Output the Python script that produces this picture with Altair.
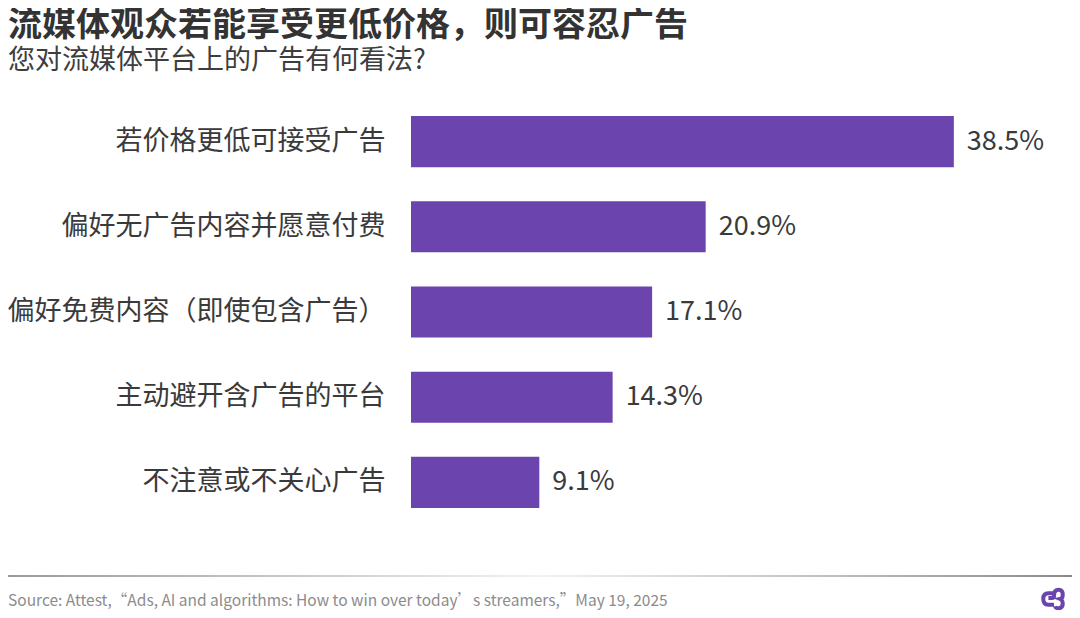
import altair as alt
import pandas as pd

categories = ["若价格更低可接受广告", "偏好无广告内容并愿意付费", "偏好免费内容（即使包含广告）", "主动避开含广告的平台", "不注意或不关心广告"]
values = [38.5, 20.9, 17.1, 14.3, 9.1]
labels = ["38.5%", "20.9%", "17.1%", "14.3%", "9.1%"]

title = "流媒体观众若能享受更低价格，则可容忍广告"
subtitle = "您对流媒体平台上的广告有何看法?"
source = "Source: Attest,“Ads, AI and algorithms: How to win over today’s streamers,”May 19, 2025"

FONT = "Noto Sans CJK SC"
PURPLE = "#6b45ad"
TEXT = "#3a3a3a"

df = pd.DataFrame({"cat": categories, "val": values, "lab": labels})

y_enc = alt.Y("cat:N", sort=categories, title=None,
              scale=alt.Scale(paddingInner=0.4, paddingOuter=0.2),
              axis=alt.Axis(domain=False, ticks=False, labelFontSize=27, labelFont=FONT,
                            labelColor=TEXT, labelPadding=26, labelLimit=500))
x_enc = alt.X("val:Q", scale=alt.Scale(domain=[0, 40]), axis=None)

base = alt.Chart(df)
bars = base.mark_bar(color=PURPLE).encode(x=x_enc, y=y_enc)
vals = base.mark_text(align="left", baseline="middle", dx=13, fontSize=27, font=FONT,
                      color=TEXT).encode(x=x_enc, y=y_enc, text="lab:N")

one = pd.DataFrame({"t": [title]})
title_m = alt.Chart(one).mark_text(align="left", baseline="middle", fontSize=34, fontWeight="bold",
                                   font=FONT, color="#333333").encode(
    x=alt.value(-403), y=alt.value(-73), text="t:N")
sub_df = pd.DataFrame({"t": [subtitle]})
sub_m = alt.Chart(sub_df).mark_text(align="left", baseline="middle", fontSize=27,
                                    font=FONT, color="#3d3d3d").encode(
    x=alt.value(-403), y=alt.value(-38), text="t:N")
src_df = pd.DataFrame({"t": [source]})
src_m = alt.Chart(src_df).mark_text(align="left", baseline="middle", fontSize=15.5,
                                    font=FONT, color="#8c8c8c").encode(
    x=alt.value(-403), y=alt.value(502), text="t:N")

grad = alt.LinearGradient(gradient="linear", x1=0, x2=1, y1=0, y2=0, stops=[
    alt.GradientStop(color="#9a9a9a", offset=0),
    alt.GradientStop(color="#f2f2f2", offset=0.5),
    alt.GradientStop(color="#c4c4c4", offset=0.75),
    alt.GradientStop(color="#8a8a8a", offset=1)])
line_m = alt.Chart(src_df).mark_rect(color=grad).encode(
    x=alt.value(-403), x2=alt.value(661), y=alt.value(476), y2=alt.value(478))

logo_path = ("M 0.1 -0.55 L -0.45 -0.55 Q -0.95 -0.55 -0.95 0 Q -0.95 0.55 -0.45 0.55 L 0.1 0.55 "
             "M -0.45 -0.1 L -0.1 -0.1 Q 0.1 -0.1 0.1 -0.35 Q 0.1 -0.9 0.55 -0.9 Q 0.95 -0.9 0.95 -0.4 "
             "Q 0.95 -0.05 0.7 0 Q 0.95 0.1 0.95 0.45 Q 0.95 0.9 0.55 0.9 Q 0.25 0.9 0.2 0.7")
logo_m = alt.Chart(src_df).mark_point(shape=logo_path, size=420, filled=False, stroke=PURPLE,
                                      strokeWidth=4, opacity=1).encode(
    x=alt.value(642), y=alt.value(500))

chart = alt.layer(line_m, bars, vals, title_m, sub_m, src_m, logo_m).properties(
    width=564, height=426,
    padding={"left": 403, "top": 91, "right": 97, "bottom": 85},
    autosize=alt.AutoSizeParams(type="none"),
    background="white",
).configure_view(stroke=None)

chart.save("out.html", embed_options={"renderer": "svg", "actions": False})
